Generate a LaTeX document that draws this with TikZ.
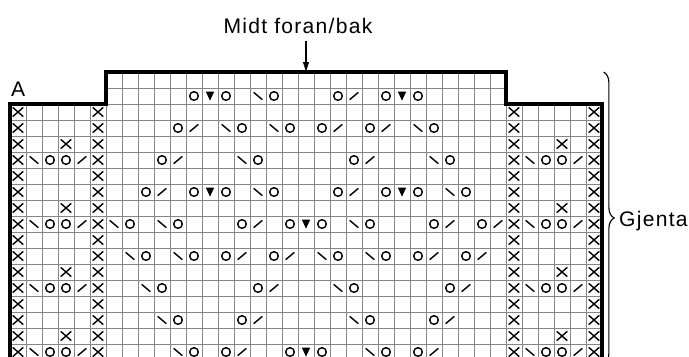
\documentclass[tikz,border=0pt]{standalone}
\usepackage{fontspec}
\setmainfont{Liberation Sans}[LetterSpace=6]
\usetikzlibrary{arrows.meta,decorations.pathreplacing}
\definecolor{rutenett}{HTML}{858585}

\begin{document}
\begin{tikzpicture}[x=0.4cm, y=0.4cm,
    gridline/.style={draw=rutenett, line width=0.6pt, step=1},
    border/.style={line width=2.2pt, line join=miter},
    symb/.style={line width=1pt},
    lbl/.style={font=\fontsize{15}{18}\selectfont, inner sep=0pt},
    pil/.style={-{Triangle[length=7pt, width=4pt]}, line width=1.1pt},
    klamme/.style={decorate, decoration={brace, amplitude=7.5pt}, line width=0.8pt},
    knitx/.pic={\draw[symb] (-0.33,-0.29) -- (0.33,0.29) (-0.33,0.29) -- (0.33,-0.29);},
    yo/.pic={\draw[symb] (0,0) circle (0.27);},
    kright/.pic={\draw[symb] (-0.27,-0.23) -- (0.27,0.23);},
    kleft/.pic={\draw[symb] (-0.27,0.23) -- (0.27,-0.23);},
    dec/.pic={\fill (-0.26,0.27) -- (0.26,0.27) -- (0,-0.29) -- cycle;}]
    \clip (-0.625,-15.75) rectangle (42.4375,6.5);
    \draw[gridline] (0,-17) grid (6,0) (6,-17) grid (31,2) (31,-17) grid (37,0);

    \foreach \r in {1,...,16}
        \foreach \s in {0.5,5.5,31.5,36.5} \pic at (\s,0.5-\r) {knitx};
    \foreach \r in {3,7,11,15}
        \foreach \s in {0,31} \pic at (\s+3.5,0.5-\r) {knitx};
    \foreach \r in {4,8,12,16}
        \foreach \s in {0,31} {
            \pic at (\s+1.5,0.5-\r) {kleft};
            \pic at (\s+2.5,0.5-\r) {yo};
            \pic at (\s+3.5,0.5-\r) {yo};
            \pic at (\s+4.5,0.5-\r) {kright};
        }

    \foreach \r/\cols in {0/{6,8,11,15,18,20}, 2/{5,9,12,14,17,21}, 4/{4,10,16,22},
        6/{3,6,8,11,15,18,20,23}, 8/{2,5,9,12,14,17,21,24}, 10/{3,6,8,11,15,18,20,23},
        12/{4,10,16,22}, 14/{5,9,17,21}, 16/{6,8,12,14,18,20}}
        \foreach \m in \cols \pic at (\m+5.5,0.5-\r) {yo};
    \foreach \r/\cols in {0/{10}, 2/{8,11,20}, 4/{9,21}, 6/{10,22}, 8/{1,4,16},
        10/{2,5,14,17}, 12/{3,15}, 14/{4,16}, 16/{5,17}}
        \foreach \m in \cols \pic at (\m+5.5,0.5-\r) {kleft};
    \foreach \r/\cols in {0/{16}, 2/{6,15,18}, 4/{5,17}, 6/{4,16}, 8/{10,22,25},
        10/{9,12,21,24}, 12/{11,23}, 14/{10,22}, 16/{9,21}}
        \foreach \m in \cols \pic at (\m+5.5,0.5-\r) {kright};
    \foreach \r/\cols in {0/{7,19}, 6/{7,19}, 8/{13}, 16/{13}}
        \foreach \m in \cols \pic at (\m+5.5,0.5-\r) {dec};

    \draw[border] (0,-17) |- (6,0) |- (31,2) |- (37,0) -- (37,-17);

    \node[lbl, anchor=base] (tittel) at (18,4.42) {Midt foran/bak};
    \coordinate (pilstart) at (18.5,3.94);
    \coordinate (midttopp) at (18.5,2);
    \draw[pil] (pilstart) -- (midttopp);
    \node[lbl, anchor=base west] (a) at (0.05,0.44) {A};

    \coordinate (klammetopp) at (37.1,2);
    \coordinate (klammebunn) at (37.1,-16.25);
    \draw[klamme] (klammetopp) -- (klammebunn);
    \node[lbl, anchor=base west] (gjenta) at (38.06,-7.67) {Gjenta};
\end{tikzpicture}
\end{document}
